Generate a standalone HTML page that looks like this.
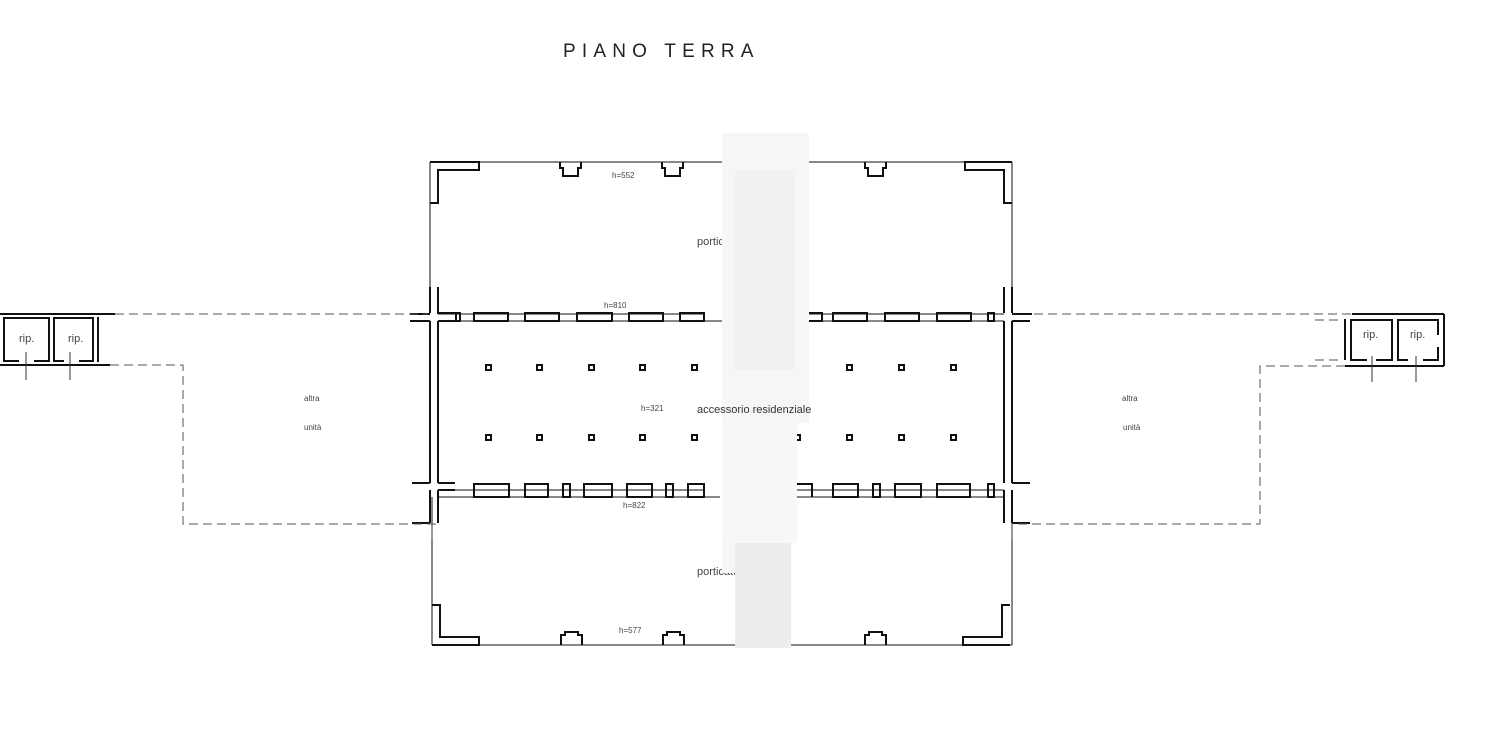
<!DOCTYPE html>
<html><head><meta charset="utf-8"><style>
html,body{margin:0;padding:0;background:#fff;}
svg{display:block}
text{font-family:"Liberation Sans",sans-serif;fill:#444}
</style></head><body>
<svg width="1492" height="732" viewBox="0 0 1492 732" xmlns="http://www.w3.org/2000/svg">
<rect width="1492" height="732" fill="#fff"/>
<text x="563" y="57" font-size="19" letter-spacing="6.2" style="fill:#222">PIANO TERRA</text>

<g fill="none" stroke="#111" stroke-width="1">
<line x1="430" y1="162" x2="1012" y2="162"/>
<line x1="430" y1="162" x2="430" y2="287"/>
<line x1="1012" y1="162" x2="1012" y2="287"/>
<line x1="432" y1="645" x2="1012" y2="645"/>
<line x1="432" y1="497" x2="432" y2="645"/>
<line x1="1012" y1="497" x2="1012" y2="645"/>
</g>

<g fill="none" stroke="#111" stroke-width="2">
<polyline points="430,162 479,162 479,170 438,170 438,203 430,203"/>
<polyline points="1012,162 965,162 965,170 1004,170 1004,203 1012,203"/>
<polyline points="560,162 560,168 563,168 563,176 578,176 578,168 581,168 581,162"/>
<polyline points="662,162 662,168 665,168 665,176 680,176 680,168 683,168 683,162"/>
<polyline points="865,162 865,168 868,168 868,176 883,176 883,168 886,168 886,162"/>
<polyline points="432,645 479,645 479,637 440,637 440,605 432,605"/>
<polyline points="1010,645 963,645 963,637 1002,637 1002,605 1010,605"/>
<polyline points="561,645 561,635 565,635 565,632 578,632 578,635 582,635 582,645"/>
<polyline points="663,645 663,635 667,635 667,632 680,632 680,635 684,635 684,645"/>
<polyline points="865,645 865,635 869,635 869,632 882,632 882,635 886,635 886,645"/>

<polyline points="430,287 430,313"/>
<polyline points="438,287 438,313 455,313"/>
<polyline points="430,321 430,483"/>
<polyline points="438,321 438,483"/>
<polyline points="438,321 455,321"/>
<polyline points="438,483 455,483"/>
<polyline points="438,490 438,523"/>
<polyline points="438,490 455,490"/>
<line x1="410" y1="314" x2="430" y2="314"/>
<line x1="410" y1="321" x2="430" y2="321"/>
<line x1="412" y1="483" x2="430" y2="483"/>
<line x1="412" y1="523" x2="430" y2="523"/>
<line x1="430" y1="490" x2="430" y2="523"/>
<polyline points="1004,287 1004,313"/>
<polyline points="1012,287 1012,313"/>
<polyline points="1004,321 1004,483"/>
<polyline points="1012,321 1012,483"/>
<polyline points="1004,490 1004,523"/>
<polyline points="1012,490 1012,523"/>
<line x1="1012" y1="314" x2="1032" y2="314"/>
<line x1="1012" y1="321" x2="1030" y2="321"/>
<line x1="1012" y1="483" x2="1030" y2="483"/>
<line x1="1012" y1="523" x2="1030" y2="523"/>
</g>

<g fill="none" stroke="#111" stroke-width="1">
<line x1="438" y1="314" x2="705" y2="314"/>
<line x1="438" y1="321" x2="723" y2="321"/>
<line x1="723" y1="290" x2="723" y2="330"/>
<line x1="808" y1="314" x2="1004" y2="314"/>
<line x1="808" y1="321" x2="1004" y2="321"/>
<line x1="438" y1="490" x2="705" y2="490"/>
<line x1="438" y1="497" x2="720" y2="497"/>
<line x1="790" y1="490" x2="1004" y2="490"/>
<line x1="790" y1="497" x2="1004" y2="497"/>
</g>
<g fill="none" stroke="#111" stroke-width="2">
<rect x="456" y="313" width="4" height="8"/>
<rect x="474" y="313" width="34" height="8"/>
<rect x="525" y="313" width="34" height="8"/>
<rect x="577" y="313" width="35" height="8"/>
<rect x="629" y="313" width="34" height="8"/>
<rect x="680" y="313" width="24" height="8"/>
<rect x="808" y="313" width="14" height="8"/>
<rect x="833" y="313" width="34" height="8"/>
<rect x="885" y="313" width="34" height="8"/>
<rect x="937" y="313" width="34" height="8"/>
<rect x="988" y="313" width="6" height="8"/>

<rect x="474" y="484" width="35" height="13"/>
<rect x="525" y="484" width="23" height="13"/>
<rect x="563" y="484" width="7" height="13"/>
<rect x="584" y="484" width="28" height="13"/>
<rect x="627" y="484" width="25" height="13"/>
<rect x="666" y="484" width="7" height="13"/>
<rect x="688" y="484" width="16" height="13"/>
<polyline points="792,484 812,484 812,497"/>
<rect x="833" y="484" width="25" height="13"/>
<rect x="873" y="484" width="7" height="13"/>
<rect x="895" y="484" width="26" height="13"/>
<rect x="937" y="484" width="33" height="13"/>
<rect x="988" y="484" width="6" height="13"/>
</g>

<g fill="none" stroke="#111" stroke-width="2">
<rect x="486" y="365" width="5" height="5"/><rect x="537" y="365" width="5" height="5"/><rect x="589" y="365" width="5" height="5"/><rect x="640" y="365" width="5" height="5"/><rect x="692" y="365" width="5" height="5"/><rect x="847" y="365" width="5" height="5"/><rect x="899" y="365" width="5" height="5"/><rect x="951" y="365" width="5" height="5"/>
<rect x="486" y="435" width="5" height="5"/><rect x="537" y="435" width="5" height="5"/><rect x="589" y="435" width="5" height="5"/><rect x="640" y="435" width="5" height="5"/><rect x="692" y="435" width="5" height="5"/><rect x="795" y="435" width="5" height="5"/><rect x="847" y="435" width="5" height="5"/><rect x="899" y="435" width="5" height="5"/><rect x="951" y="435" width="5" height="5"/>
</g>

<g fill="none" stroke="#555" stroke-width="1" stroke-dasharray="9,5">
<line x1="115" y1="314" x2="428" y2="314"/>
<polyline points="110,365 183,365 183,524 436,524"/>
<line x1="1034" y1="314" x2="1352" y2="314"/>
<polyline points="1018,524 1260,524 1260,366 1350,366"/>
<line x1="1315" y1="320" x2="1340" y2="320"/>
<line x1="1315" y1="360" x2="1340" y2="360"/>
</g>
<g fill="none" stroke="#111" stroke-width="2">
<line x1="0" y1="314" x2="115" y2="314"/>
<line x1="0" y1="365" x2="110" y2="365"/>
<polyline points="19,361 4,361 4,318 49,318 49,361 34,361"/>
<polyline points="64,361 54,361 54,318 93,318 93,361 79,361"/>
<line x1="98" y1="317" x2="98" y2="362"/>
<line x1="1352" y1="314" x2="1444" y2="314"/>
<line x1="1345" y1="366" x2="1444" y2="366"/>
<line x1="1444" y1="314" x2="1444" y2="366"/>
<polyline points="1367,360 1351,360 1351,320 1392,320 1392,360 1376,360"/>
<polyline points="1408,360 1398,360 1398,320 1438,320 1438,335"/>
<polyline points="1438,347 1438,360 1423,360"/>
<line x1="1345" y1="319" x2="1345" y2="360"/>
</g>
<g stroke="#333" stroke-width="1">
<line x1="26" y1="352" x2="26" y2="380"/><line x1="70" y1="352" x2="70" y2="380"/>
<line x1="1372" y1="356" x2="1372" y2="382"/><line x1="1416" y1="356" x2="1416" y2="382"/>
<line x1="432" y1="523" x2="432" y2="540"/><line x1="1012" y1="523" x2="1012" y2="540"/>
</g>

<text x="19" y="342" font-size="11">rip.</text>
<text x="68" y="342" font-size="11">rip.</text>
<text x="1363" y="338" font-size="11">rip.</text>
<text x="1410" y="338" font-size="11">rip.</text>
<text x="304" y="401" font-size="8">altra</text>
<text x="304" y="430" font-size="8">unità</text>
<text x="1122" y="401" font-size="8">altra</text>
<text x="1123" y="430" font-size="8">unità</text>
<text x="612" y="178" font-size="8">h=552</text>
<text x="604" y="308" font-size="8">h=810</text>
<text x="641" y="411" font-size="8">h=321</text>
<text x="623" y="508" font-size="8">h=822</text>
<text x="619" y="633" font-size="8">h=577</text>
<text x="697" y="245" font-size="11">porticato</text>
<text x="697" y="575" font-size="11">porticato</text>

<rect x="722" y="133" width="87" height="290" fill="#f6f6f6"/>
<rect x="735" y="170" width="60" height="200" fill="#f0f0f0" opacity="0.8"/>
<rect x="722" y="423" width="75" height="120" fill="#f7f7f7"/>
<rect x="735" y="543" width="56" height="105" fill="#ededed"/>
<rect x="722" y="543" width="13" height="30" fill="#f6f6f6"/>
<text x="697" y="413" font-size="11" style="fill:#333">accessorio residenziale</text>
</svg>
</body></html>
